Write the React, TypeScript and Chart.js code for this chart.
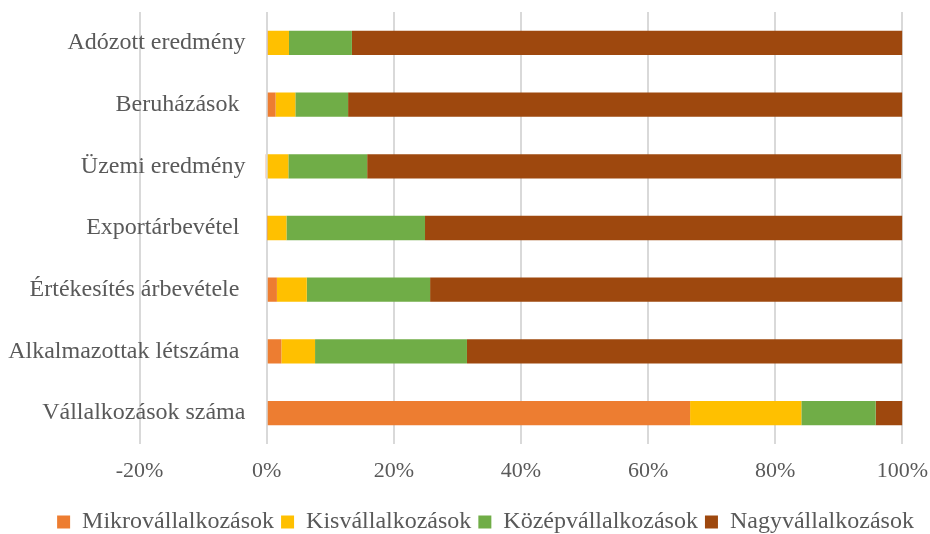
import React, { useEffect, useRef } from "react";
import { Chart, registerables } from "chart.js";

Chart.register(...registerables);

const categories = [
  "Adózott eredmény",
  "Beruházások ",
  "Üzemi eredmény",
  "Exportárbevétel ",
  "Értékesítés árbevétele ",
  "Alkalmazottak létszáma ",
  "Vállalkozások száma",
];

const seriesNames = ["Mikrovállalkozások", "Kisvállalkozások", "Középvállalkozások", "Nagyvállalkozások"];
const seriesColors = ["#ED7D31", "#FFC000", "#70AD47", "#9E480E"];

const mikro = [0.2, 1.4, -0.2, 0.1, 1.6, 2.3, 66.6];
const kis = [3.3, 3.1, 3.4, 3.0, 4.7, 5.3, 17.5];
const kozep = [9.9, 8.3, 12.4, 21.8, 19.4, 23.9, 11.7];
const nagy = [86.6, 87.2, 84.0, 75.1, 74.3, 68.5, 4.2];

const xMin = -20;
const xMax = 100;
const xStep = 20;

const FONT = "'Liberation Serif', 'Times New Roman', serif";
const TEXT = "#595959";

const spacer = (pos: string, w: number) => ({
  type: "category",
  axis: "y",
  position: pos,
  display: true,
  border: { display: false },
  grid: { display: false, drawTicks: false },
  ticks: { display: false },
  afterFit: (s: any) => {
    s.width = w;
    s.paddingTop = 0;
    s.paddingBottom = 0;
  },
});

export default function App() {
  const ref = useRef<HTMLCanvasElement>(null);
  useEffect(() => {
    const values = [mikro, kis, kozep, nagy];
    const chart = new Chart(ref.current!, {
      type: "bar",
      data: {
        labels: categories,
        datasets: seriesNames.map((name, i) => ({
          label: name,
          data: values[i],
          backgroundColor: seriesColors[i],
          borderWidth: 0,
          categoryPercentage: 1,
          barPercentage: 0.394,
          xAxisID: "x",
          yAxisID: "y",
        })),
      },
      options: {
        indexAxis: "y",
        animation: false,
        responsive: false,
        devicePixelRatio: 1,
        layout: { padding: { left: 41, right: 0, top: 12, bottom: -10 } },
        scales: {
          x: {
            stacked: true,
            min: xMin,
            max: xMax,
            border: { display: false },
            grid: {
              color: "#D9D9D9",
              lineWidth: 2,
              drawTicks: true,
              tickLength: 14,
              tickColor: "rgba(0,0,0,0)",
            },
            ticks: {
              stepSize: xStep,
              padding: 0,
              color: TEXT,
              font: { family: FONT, size: 22 },
              callback: (v: any) => `${v}%`,
            },
            afterFit: (s: any) => {
              s.height = 59;
            },
          },
          y: {
            stacked: true,
            position: { x: -3.35 } as any,
            border: { display: false },
            grid: { display: false, drawTicks: false },
            ticks: {
              padding: 0,
              color: TEXT,
              font: { family: FONT, size: 24 },
            },
            afterFit: (s: any) => {
              s.width = 0;
              s.paddingTop = 0;
              s.paddingBottom = 0;
            },
          },
          yl: spacer("left", 98.6) as any,
          yr: spacer("right", 27.6) as any,
        },
        plugins: {
          legend: {
            position: "bottom",
            labels: {
              boxWidth: 13,
              boxHeight: 13,
              padding: 7,
              color: TEXT,
              font: { family: FONT, size: 24 },
            },
          },
          tooltip: { enabled: false },
        },
      },
    });
    return () => chart.destroy();
  }, []);
  return (
    <div style={{ position: "absolute", left: 0, top: 0, width: 930, height: 534, background: "#fff" }}>
      <canvas ref={ref} width={930} height={534} style={{ display: "block" }} />
    </div>
  );
}
